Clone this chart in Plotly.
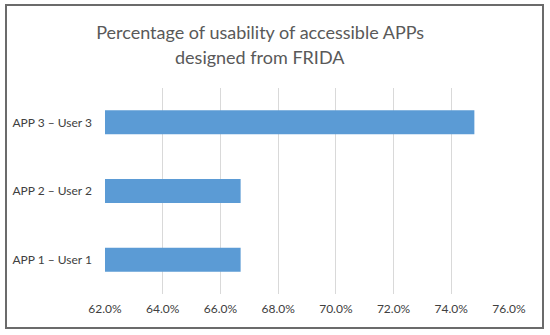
import plotly.graph_objects as go

categories = ["APP 1 – User 1", "APP 2 – User 2", "APP 3 – User 3"]
values = [0.667, 0.667, 0.748]
tick_vals = [0.62, 0.64, 0.66, 0.68, 0.70, 0.72, 0.74, 0.76]
title_line1 = "Percentage of usability of accessible APPs"
title_line2 = "designed from FRIDA"

fig = go.Figure(go.Bar(
    y=categories, x=values, orientation="h",
    marker=dict(color="#5b9bd5", line=dict(width=0)),
    width=0.35,
))

title_font = dict(family="Lato", size=18, color="#595959")
fig.update_layout(
    width=550, height=335,
    margin=dict(l=105, r=41, t=88, b=41),
    paper_bgcolor="white", plot_bgcolor="white",
    showlegend=False,
    title=dict(text=title_line1, x=0.473, xanchor="center", xref="container",
               y=0.884, yanchor="bottom", yref="container",
               font=title_font),
    font=dict(family="Lato"),
    annotations=[dict(text=title_line2, x=0.473, xanchor="center", xref="paper",
                      y=(294-70)/206, yanchor="bottom", yref="paper",
                      showarrow=False, font=title_font)],
    shapes=[dict(type="rect", xref="paper", yref="paper",
                 x0=(6-105)/404, x1=(543-105)/404,
                 y0=(294-328)/206, y1=(294-5)/206,
                 line=dict(color="#6b6b6b", width=2), fillcolor="rgba(0,0,0,0)",
                 layer="below")],
)
# annotation x in paper coords corresponding to container 0.473
fig.layout.annotations[0].x = (0.473*550 - 105)/404

fig.update_xaxes(range=[0.62, 0.76], tickvals=tick_vals, tickformat=".1%",
                 showgrid=True, gridcolor="#d9d9d9", gridwidth=1,
                 zeroline=False, showline=False, ticks="",
                 ticklabelstandoff=6,
                 tickfont=dict(family="Lato", size=12, color="#404040"))
fig.update_yaxes(showgrid=False, zeroline=False, showline=False, ticks="",
                 ticklabelstandoff=12,
                 tickfont=dict(family="Lato", size=12, color="#404040"))

fig.write_html("out.html", config={"displayModeBar": False},
               post_script="document.body.style.margin='0';")
